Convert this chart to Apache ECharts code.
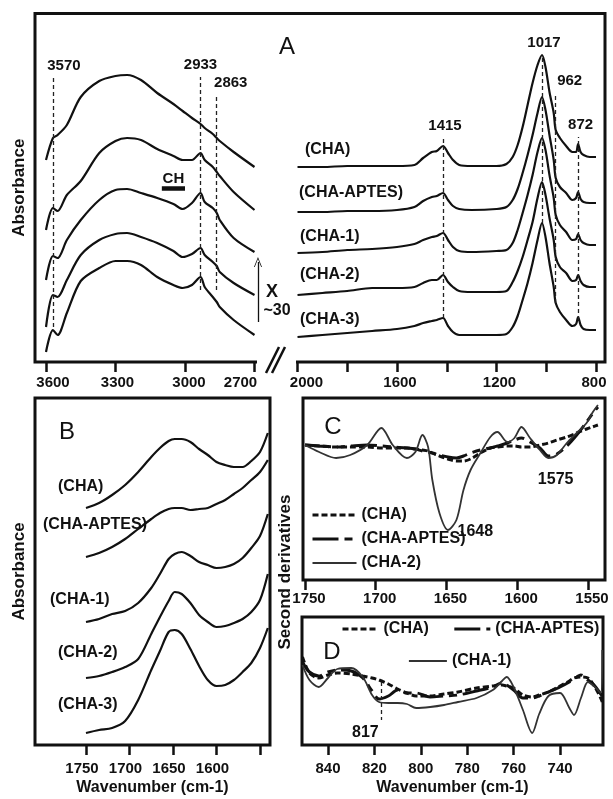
<!DOCTYPE html>
<html>
<head>
<meta charset="utf-8">
<script src="https://cdn.jsdelivr.net/npm/echarts@6.0.0/dist/echarts.min.js"></script>
<style>
html,body{margin:0;padding:0;background:#ffffff;}
#chart{width:613px;height:799px;}
</style>
</head>
<body>
<div id="chart"></div>
<script>
// ---------- Panel A, left part (3600-2700 cm-1, x~30) ----------
const aLeftWn    = [3600,3570,3550,3510,3450,3370,3300,3250,3190,3120,3050,3010,2970,2933,2915,2880,2863,2850,2790,2700];
const aLeftCHA   = [202,224,227,237,265,281,286,287,282,269,258,251,244,238,234,228,224,221,210,195];
const aLeftAPTES = [132,154,151,167,181,209,221,224,222,213,206,202,202,209,202,195,190,186,170,152];
const aLeftCHA1  = [82,106,104,122,142,162,172,173,169,164,158,153,159,169,160,154,149,142,124,110];
const aLeftCHA2  = [35,67,65,82,107,122,128,129,125,119,111,105,108,114,107,100,96,90,79,67];
const aLeftCHA3  = [10,32,27,49,81,94,101,101,97,85,77,74,77,85,75,65,60,55,42,27];
const aLeftTicks = [3600,3300,3000,2700];

// ---------- Panel A, right part (2000-800 cm-1) ----------
const aRightWn    = [2000,1900,1800,1700,1600,1530,1495,1460,1440,1415,1395,1375,1350,1300,1200,1160,1135,1115,1095,1075,1055,1035,1017,1003,987,970,962,945,920,895,880,872,862,850,825,800];
const aRightCHA   = [195,195,196,196,196,197,204,210,211,216,209,202,197,196,196,198,205,217,235,257,279,297,307,295,270,249,232,224,216,210,210,218,210,207,205,205];
const aRightAPTES = [150,150,151,151,152,155,161,165,166,169,162,156,153,152,153,155,162,173,189,207,227,249,265,252,227,202,184,175,169,162,164,170,163,160,159,159];
const aRightCHA1  = [109,110,112,113,115,118,122,125,126,129,122,115,111,110,111,112,119,132,149,167,187,210,224,212,187,164,147,137,130,122,123,128,122,119,117,117];
const aRightCHA2  = [67,69,71,74,74,75,79,82,82,87,80,75,71,70,70,71,80,91,105,122,140,164,180,167,144,122,105,95,89,81,82,87,81,77,75,75];
const aRightCHA3  = [25,27,29,31,33,36,39,41,42,44,36,30,27,27,27,28,35,46,62,79,99,122,139,125,99,75,59,50,42,36,38,45,37,33,32,32];
const aRightTicks  = [2000,1800,1600,1400,1200,1000,800];
const aRightLabels = [2000,1600,1200,800];
const aCurveLabels = ['(CHA)','(CHA-APTES)','(CHA-1)','(CHA-2)','(CHA-3)'];

// ---------- Panel B (amide region) ----------
const bWn    = [1750,1735,1720,1705,1690,1675,1665,1655,1648,1640,1630,1620,1610,1600,1590,1580,1570,1560,1550,1541];
const bCHA   = [237,242,250,260,273,288,297,304,306,306,303,296,290,283,280,278,278,284,293,312];
const bAPTES = [188,192,198,206,216,226,232,236,237,237,235,236,237,241,245,251,257,265,273,285];
const bCHA1  = [123,126,131,134,142,157,171,186,191,193,189,183,180,177,178,181,187,197,209,231];
const bCHA2  = [67,69,73,78,86,111,128,144,153,151,142,130,123,118,119,122,126,133,145,171];
const bCHA3  = [12,15,17,24,45,75,94,113,115,111,96,79,65,59,60,65,73,82,97,117];
const bTicks  = [1750,1700,1650,1600,1550];
const bLabels = [1750,1700,1650,1600];

// ---------- Panel C (second derivatives, 1750-1550) ----------
const cWn    = [1750,1740,1728,1718,1706,1696,1688,1678,1672,1667,1663,1660,1655,1649,1643,1638,1633,1626,1619,1614,1607,1602,1597,1591,1584,1578,1572,1565,1558,1551,1547,1543];
const cCHA   = [2,1,0,0,0,-1,-1,-1,-2,-3,-4,-6,-9,-12,-14,-14,-12,-6,-1,0,1,1,0,0,2,4,7,10,14,18,20,22];
const cAPTES = [2,1,0,1,2,1,0,-1,-2,-4,-5,-6,-8,-10,-11,-9,-6,-3,-1,1,4,7,9,5,-1,-9,-7,1,12,25,33,40];
const cCHA2  = [2,-5,-11,-8,2,19,2,-11,-5,12,0,-33,-66,-83,-73,-43,-23,-6,10,15,5,9,20,9,-3,-11,-8,4,14,24,34,42];
const cTicks = [1750,1700,1650,1600,1550];

// ---------- Panel D (second derivatives, 850-720) ----------
const dWn    = [851,848,844,840,836,830,825,821,818,814,810,806,802,796,790,784,776,769,765,763,760,756,752,749,745,740,736,734,731,728,725,722.5,721.8];
const dCHA   = [33,17,12,15,17,16,14,12,10,6,1,-3,-6,-6,-4,-2,2,4,5,4,2,-5,-7,-5,-2,4,9,12,13,12,3,-8,-12];
const dAPTES = [28,18,14,18,20,19,12,-1,-9,-6,0,-3,-3,-7,-6,-5,-1,3,7,5,0,-8,-8,-6,-2,3,8,11,15,10,4,-4,-6];
const dCHA1  = [25,10,3,12,21,22,13,-5,-12,-13,-13,-14,-18,-17,-15,-12,-8,0,9,13,3,-20,-43,-24,-6,-3,-18,-25,-8,8,3,-3,40];
const dTicks = [840,820,800,780,760,740];

// ---------------------------------------------------------------
const FONT = '"Liberation Sans", Arial, Helvetica, sans-serif';
const INK = '#111';
const txt = (size, weight) => ({color: INK, fontFamily: FONT, fontSize: size, fontWeight: weight || 'bold'});

function labelFmt(shifts) {
  const rich = {};
  Object.keys(shifts).forEach(k => {
    const d = shifts[k];
    rich['s' + k] = Object.assign(txt(15), {padding: d >= 0 ? [0, 0, 0, 2 * d] : [0, -2 * d, 0, 0]});
  });
  return {formatter: v => (String(v) in shifts) ? '{s' + v + '|' + v + '}' : String(v), rich};
}

function xAx(gi, min, max, ticks, labels, margin, shifts, extra) {
  return Object.assign({
    gridIndex: gi, type: 'value', inverse: true, min, max, position: 'bottom',
    axisLine: {show: false, onZero: false}, splitLine: {show: false},
    axisTick: {show: true, inside: false, length: 10, lineStyle: {color: INK, width: 2.5}, customValues: ticks},
    axisLabel: Object.assign({show: true, margin, interval: 0, hideOverlap: false, customValues: labels}, txt(15), labelFmt(shifts || {}))
  }, extra || {});
}
function yAx(gi, min, max, name) {
  const o = {gridIndex: gi, type: 'value', min, max, axisLine: {show: false, onZero: false}, axisTick: {show: false},
    axisLabel: {show: false}, splitLine: {show: false}};
  if (name) Object.assign(o, {name, nameLocation: 'middle', nameGap: 7, nameTextStyle: txt(17)});
  else o.show = false;
  return o;
}
function curve(name, gi, wn, vals, style, extra) {
  return Object.assign({
    type: 'line', name, xAxisIndex: gi, yAxisIndex: gi,
    data: wn.map((w, i) => [w, vals[i]]),
    symbol: 'none', smooth: 0.3, silent: true, z: 3, lineStyle: style
  }, extra || {});
}

const solid = {color: INK, width: 2.2};
const dotted = {color: INK, width: 3, type: [6, 3]};
const dashDot = {color: INK, width: 3, type: [26, 6, 8, 6]};
const thin = {color: '#333', width: 1.8};
const dashedGuide = {color: '#222', width: 1.3, type: [4, 3]};
const vLabel = Object.assign({show: true, position: 'end', distance: 5}, txt(15));

const leftMarks = {
  silent: true, symbol: ['none', 'none'], lineStyle: dashedGuide, label: vLabel,
  data: [
    [{coord: [3570, 35], label: {formatter: '3570', padding: [0, 0, 0, 22]}}, {coord: [3570, 284]}],
    [{coord: [2933, 72], label: {formatter: '2933'}}, {coord: [2933, 285]}],
    [{coord: [2863, 72], label: {formatter: '2863', padding: [0, 0, 0, 28]}}, {coord: [2863, 267]}],
    [{coord: [3100, 174], lineStyle: {type: 'solid', width: 4.5, color: INK},
      label: {formatter: 'CH', position: 'insideMiddleTop', distance: 2}}, {coord: [3000, 174]}],
    [{coord: [2685, 40], symbol: 'none', lineStyle: {type: 'solid', width: 1.3, color: INK}, label: {show: false}},
     {coord: [2685, 100], symbol: 'path://M0,10L5,0L10,10L9,10L5,2L1,10Z', symbolSize: [8, 10]}]
  ]
};
const rightMarks = {
  silent: true, symbol: ['none', 'none'], lineStyle: dashedGuide, label: vLabel,
  data: [
    [{coord: [1415, 44], label: {formatter: '1415', padding: [0, 0, 0, 4]}}, {coord: [1415, 224]}],
    [{coord: [1017, 139], label: {formatter: '1017', padding: [0, 0, 0, 4]}}, {coord: [1017, 307]}],
    [{coord: [962, 59], label: {formatter: '962', padding: [0, 0, 0, 28]}}, {coord: [962, 269]}],
    [{coord: [872, 42], label: {formatter: '872', padding: [0, 0, 0, 5]}}, {coord: [872, 225]}]
  ]
};
const cMarks = {
  silent: true, symbol: 'circle', symbolSize: 1, itemStyle: {color: 'rgba(0,0,0,0)'},
  label: Object.assign({show: true, position: 'inside'}, txt(16)),
  data: [
    {coord: [1648, -83], label: {formatter: '1648', offset: [26, 2]}},
    {coord: [1575, -11], label: {formatter: '1575', offset: [3, 22]}}
  ]
};
const dMarks = {
  silent: true, symbol: ['none', 'none'], lineStyle: dashedGuide, label: Object.assign({}, vLabel, {fontSize: 16}),
  data: [[{coord: [817, 8], label: {formatter: '817', padding: [0, 32, 0, 0]}}, {coord: [817, -30]}]]
};

const gridBase = {show: false, containLabel: false, outerBoundsMode: 'none'};
const boxed = {show: true, borderColor: INK, borderWidth: 3, backgroundColor: 'transparent', containLabel: false, outerBoundsMode: 'none'};

function gText(text, x, y, size, weight, align, extra) {
  return Object.assign({type: 'text', x, y, silent: true, z: 10,
    style: {text, fill: INK, font: (weight || 'bold') + ' ' + size + 'px ' + FONT, align: align || 'center', verticalAlign: 'middle'}}, extra || {});
}
const aLabelPos = [[305, 150], [299, 193], [300, 237], [300, 275], [300, 320]];
const bLabelPos = [[58, 487], [43, 525], [50, 600], [58, 653], [58, 705]];

const graphics = [
  {type: 'rect', silent: true, z: 1, shape: {x: 35, y: 13.5, width: 570, height: 348.5}, style: {fill: 'none', stroke: INK, lineWidth: 3}},
  {type: 'rect', silent: true, z: 2, shape: {x: 257, y: 358, width: 39, height: 8}, style: {fill: '#fff'}},
  {type: 'line', silent: true, z: 2, shape: {x1: 266, y1: 373, x2: 279, y2: 347}, style: {stroke: INK, lineWidth: 2.5}},
  {type: 'line', silent: true, z: 2, shape: {x1: 272, y1: 373, x2: 285, y2: 347}, style: {stroke: INK, lineWidth: 2.5}},
  gText('A', 287, 47, 24, 'normal'),
  gText('B', 67, 432, 24, 'normal'),
  gText('C', 333, 427, 24, 'normal'),
  gText('D', 332, 652, 24, 'normal'),
  gText('X', 272, 292, 18),
  gText('~30', 277, 311, 16),
  gText('Second derivatives', 285, 572, 17, 'bold', 'center', {rotation: Math.PI / 2})
];
aCurveLabels.forEach((t, i) => graphics.push(gText(t, aLabelPos[i][0], aLabelPos[i][1], 16, 'bold', 'left')));
aCurveLabels.forEach((t, i) => graphics.push(gText(t, bLabelPos[i][0], bLabelPos[i][1], 16, 'bold', 'left')));

const legendBase = {padding: 0, selectedMode: false, itemHeight: 14, textStyle: txt(16),
  itemStyle: {opacity: 0}, lineStyle: {width: 'inherit'}};

const option = {
  animation: false,
  backgroundColor: '#ffffff',
  grid: [
    Object.assign({left: 35, top: 13.5, width: 240, height: 348.5}, gridBase),
    Object.assign({left: 275, top: 13.5, width: 330, height: 348.5}, gridBase),
    Object.assign({left: 35, top: 398, width: 235, height: 347}, boxed),
    Object.assign({left: 303, top: 398, width: 302, height: 182}, boxed),
    Object.assign({left: 302, top: 617, width: 301, height: 128}, boxed)
  ],
  xAxis: [
    xAx(0, 2611.5, 3647.5, aLeftTicks, aLeftTicks, 13, {3600: 7, 3300: 2, 3000: 4, 2700: -14}),
    xAx(1, 763.8, 2090.5, aRightTicks, aRightLabels, 13, {2000: 9, 1600: 3, 1200: 3, 800: -2}),
    xAx(2, 1538.5, 1808.6, bTicks, bLabels, 16, {1750: -4, 1700: -4, 1650: -4, 1600: -4},
      {name: 'Wavenumber (cm-1)', nameLocation: 'middle', nameGap: 35, nameTextStyle: txt(16)}),
    xAx(3, 1538, 1751.4, cTicks, cTicks, 11, {1750: 4, 1700: 4, 1650: 4, 1600: 4, 1550: 4}),
    xAx(4, 721.5, 851.2, dTicks, dTicks, 16, {},
      {name: 'Wavenumber (cm-1)', nameLocation: 'middle', nameGap: 35, nameTextStyle: txt(16)})
  ],
  yAxis: [
    yAx(0, 0, 348.5, 'Absorbance'),
    yAx(1, 0, 348.5),
    yAx(2, 0, 347, 'Absorbance'),
    yAx(3, -133, 49),
    yAx(4, -55, 73)
  ],
  legend: [
    Object.assign({left: 311, top: 507, orient: 'vertical', itemWidth: 44, itemGap: 8, data: ['(CHA)', '(CHA-APTES)', '(CHA-2)']}, legendBase),
    Object.assign({left: 341, top: 621, orient: 'horizontal', itemWidth: 36, itemGap: 24, data: ['(CHA)', '(CHA-APTES)']}, legendBase),
    Object.assign({left: 408, top: 653, orient: 'horizontal', itemWidth: 38, data: ['(CHA-1)']}, legendBase)
  ],
  graphic: graphics,
  series: [
    curve('A-left CHA', 0, aLeftWn, aLeftCHA, solid, {markLine: leftMarks}),
    curve('A-left CHA-APTES', 0, aLeftWn, aLeftAPTES, solid),
    curve('A-left CHA-1', 0, aLeftWn, aLeftCHA1, solid),
    curve('A-left CHA-2', 0, aLeftWn, aLeftCHA2, solid),
    curve('A-left CHA-3', 0, aLeftWn, aLeftCHA3, solid),
    curve('A-right CHA', 1, aRightWn, aRightCHA, solid, {markLine: rightMarks}),
    curve('A-right CHA-APTES', 1, aRightWn, aRightAPTES, solid),
    curve('A-right CHA-1', 1, aRightWn, aRightCHA1, solid),
    curve('A-right CHA-2', 1, aRightWn, aRightCHA2, solid),
    curve('A-right CHA-3', 1, aRightWn, aRightCHA3, solid),
    curve('B CHA', 2, bWn, bCHA, solid),
    curve('B CHA-APTES', 2, bWn, bAPTES, solid),
    curve('B CHA-1', 2, bWn, bCHA1, solid),
    curve('B CHA-2', 2, bWn, bCHA2, solid),
    curve('B CHA-3', 2, bWn, bCHA3, solid),
    curve('(CHA)', 3, cWn, cCHA, dotted),
    curve('(CHA-APTES)', 3, cWn, cAPTES, dashDot),
    curve('(CHA-2)', 3, cWn, cCHA2, thin, {markPoint: cMarks}),
    curve('(CHA)', 4, dWn, dCHA, dotted),
    curve('(CHA-APTES)', 4, dWn, dAPTES, dashDot),
    curve('(CHA-1)', 4, dWn, dCHA1, thin, {markLine: dMarks})
  ]
};

const chart = echarts.init(document.getElementById('chart'), null, {renderer: 'canvas'});
chart.setOption(option);
</script>
</body>
</html>
